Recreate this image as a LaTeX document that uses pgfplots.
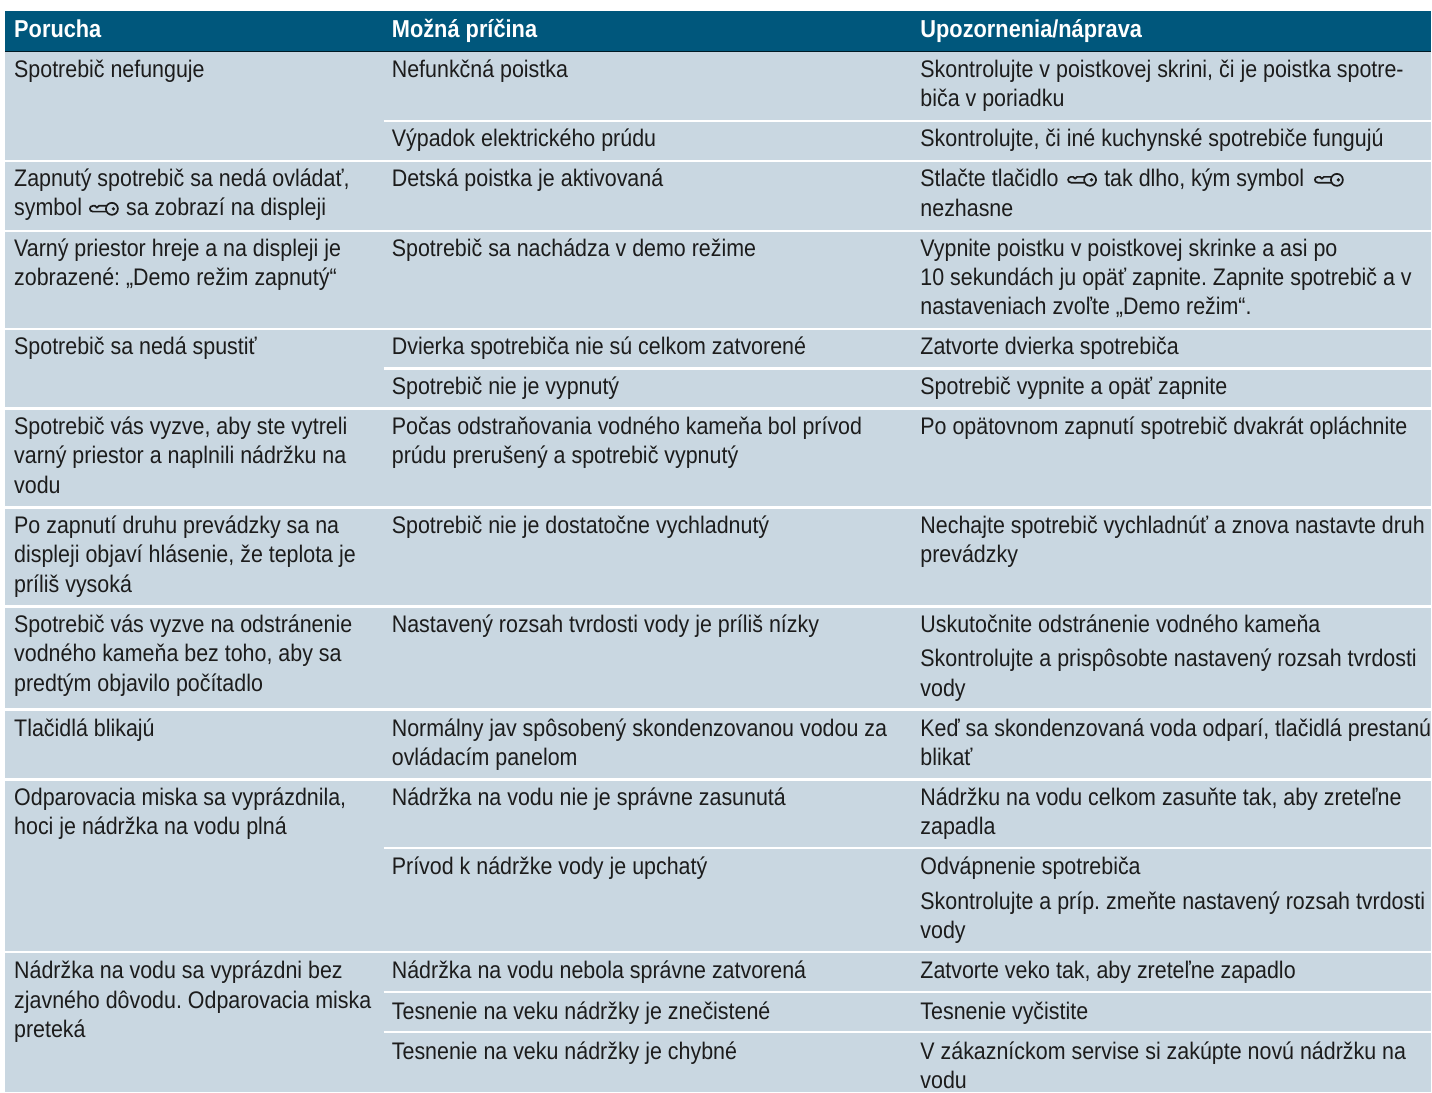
\documentclass[border=0pt]{standalone}
\usepackage{pgfplots}
\pgfplotsset{compat=1.18}
\usepackage{fontspec}
\setmainfont[FakeStretch=0.893]{Liberation Sans}
\newfontfamily\hdfont[FakeStretch=0.89]{Liberation Sans}
\definecolor{hd}{HTML}{00577C}
\definecolor{bd}{HTML}{C9D7E1}
\definecolor{tx}{HTML}{1C1C1C}
\newcommand{\T}[3]{\node[anchor=base west,inner sep=0pt,yshift=-1pt,text=tx,font=\fontsize{24}{24}\selectfont\frenchspacing] at (axis cs:#1,#2) {#3};}
\newcommand{\Hd}[2]{\node[anchor=base west,inner sep=0pt,text=white,font=\hdfont\bfseries\fontsize{24.5}{24}\selectfont] at (axis cs:#1,38) {#2};}
\newcommand{\K}[2]{\begin{scope}[shift={(axis cs:#1,#2)},tx,line width=1.7pt]
\draw (23,0) circle (6pt);
\fill (24.5,0) circle (1.8pt);
\draw (17.3,2.8) -- (4,2.8) .. controls (0,2.8) and (0,-3) .. (4,-3) -- (6,-3) -- (8,-1.2) -- (10,-3) -- (17.3,-3);
\end{scope}}
\begin{document}
\begin{tikzpicture}
\begin{axis}[scale only axis,width=1432pt,height=1093pt,xmin=0,xmax=1432,ymin=0,ymax=1093,y dir=reverse,hide axis,clip=false]
\path (axis cs:0,0) rectangle (axis cs:1432,1093);
\addplot[fill=bd,draw=none] coordinates {(5,52)(1432,52)(1432,1093)(5,1093)} -- cycle;
\addplot[fill=hd,draw=none] coordinates {(5,11)(1432,11)(1432,52)(5,52)} -- cycle;
\addplot[black!70!hd,line width=1pt] coordinates {(5,52)(1432,52)};
% full separators
\addplot[white,line width=2.4pt,forget plot] coordinates {(5,161)(1432,161)};
\addplot[white,line width=2.4pt,forget plot] coordinates {(5,231)(1432,231)};
\addplot[white,line width=2.4pt,forget plot] coordinates {(5,329)(1432,329)};
\addplot[white,line width=2.4pt,forget plot] coordinates {(5,409)(1432,409)};
\addplot[white,line width=2.4pt,forget plot] coordinates {(5,508)(1432,508)};
\addplot[white,line width=2.4pt,forget plot] coordinates {(5,607)(1432,607)};
\addplot[white,line width=2.4pt,forget plot] coordinates {(5,710)(1432,710)};
\addplot[white,line width=2.4pt,forget plot] coordinates {(5,780)(1432,780)};
\addplot[white,line width=2.4pt,forget plot] coordinates {(5,953)(1432,953)};
% partial separators
\addplot[white,line width=2.4pt,forget plot] coordinates {(384,121)(1432,121)};
\addplot[white,line width=2.4pt,forget plot] coordinates {(384,369)(1432,369)};
\addplot[white,line width=2.4pt,forget plot] coordinates {(384,849)(1432,849)};
\addplot[white,line width=2.4pt,forget plot] coordinates {(384,993)(1432,993)};
\addplot[white,line width=2.4pt,forget plot] coordinates {(384,1033)(1432,1033)};
\Hd{14}{Porucha}
\Hd{392}{Možná príčina}
\Hd{921}{Upozornenia/náprava}
% column 1
\T{14}{77}{Spotrebič nefunguje}
\T{14}{186}{Zapnutý spotrebič sa nedá ovládať,}
\T{14}{215}{symbol}
\K{89}{209}
\T{126}{215}{sa zobrazí na displeji}
\T{14}{256}{Varný priestor hreje a na displeji je}
\T{14}{285}{zobrazené: „Demo režim zapnutý“}
\T{14}{354}{Spotrebič sa nedá spustiť}
\T{14}{434}{Spotrebič vás vyzve, aby ste vytreli}
\T{14}{463}{varný priestor a naplnili nádržku na}
\T{14}{493}{vodu}
\T{14}{533}{Po zapnutí druhu prevádzky sa na}
\T{14}{562}{displeji objaví hlásenie, že teplota je}
\T{14}{592}{príliš vysoká}
\T{14}{632}{Spotrebič vás vyzve na odstránenie}
\T{14}{661}{vodného kameňa bez toho, aby sa}
\T{14}{691}{predtým objavilo počítadlo}
\T{14}{736}{Tlačidlá blikajú}
\T{14}{805}{Odparovacia miska sa vyprázdnila,}
\T{14}{834}{hoci je nádržka na vodu plná}
\T{14}{978}{Nádržka na vodu sa vyprázdni bez}
\T{14}{1008}{zjavného dôvodu. Odparovacia miska}
\T{14}{1037}{preteká}
% column 2
\T{392}{77}{Nefunkčná poistka}
\T{392}{146}{Výpadok elektrického prúdu}
\T{392}{186}{Detská poistka je aktivovaná}
\T{392}{256}{Spotrebič sa nachádza v demo režime}
\T{392}{354}{Dvierka spotrebiča nie sú celkom zatvorené}
\T{392}{394}{Spotrebič nie je vypnutý}
\T{392}{434}{Počas odstraňovania vodného kameňa bol prívod}
\T{392}{463}{prúdu prerušený a spotrebič vypnutý}
\T{392}{533}{Spotrebič nie je dostatočne vychladnutý}
\T{392}{632}{Nastavený rozsah tvrdosti vody je príliš nízky}
\T{392}{736}{Normálny jav spôsobený skondenzovanou vodou za}
\T{392}{765}{ovládacím panelom}
\T{392}{805}{Nádržka na vodu nie je správne zasunutá}
\T{392}{874}{Prívod k nádržke vody je upchatý}
\T{392}{978}{Nádržka na vodu nebola správne zatvorená}
\T{392}{1019}{Tesnenie na veku nádržky je znečistené}
\T{392}{1059}{Tesnenie na veku nádržky je chybné}
% column 3
\T{921}{77}{Skontrolujte v poistkovej skrini, či je poistka spotre-}
\T{921}{106}{biča v poriadku}
\T{921}{146}{Skontrolujte, či iné kuchynské spotrebiče fungujú}
\T{921}{186}{Stlačte tlačidlo}
\K{1068}{180}
\T{1105}{186}{tak dlho, kým symbol}
\K{1315}{180}
\T{921}{216}{nezhasne}
\T{921}{256}{Vypnite poistku v poistkovej skrinke a asi po}
\T{921}{285}{10 sekundách ju opäť zapnite. Zapnite spotrebič a v}
\T{921}{314}{nastaveniach zvoľte „Demo režim“.}
\T{921}{354}{Zatvorte dvierka spotrebiča}
\T{921}{394}{Spotrebič vypnite a opäť zapnite}
\T{921}{434}{Po opätovnom zapnutí spotrebič dvakrát opláchnite}
\T{921}{533}{Nechajte spotrebič vychladnúť a znova nastavte druh}
\T{921}{562}{prevádzky}
\T{921}{632}{Uskutočnite odstránenie vodného kameňa}
\T{921}{666}{Skontrolujte a prispôsobte nastavený rozsah tvrdosti}
\T{921}{696}{vody}
\T{921}{736}{Keď sa skondenzovaná voda odparí, tlačidlá prestanú}
\T{921}{765}{blikať}
\T{921}{805}{Nádržku na vodu celkom zasuňte tak, aby zreteľne}
\T{921}{834}{zapadla}
\T{921}{874}{Odvápnenie spotrebiča}
\T{921}{909}{Skontrolujte a príp. zmeňte nastavený rozsah tvrdosti}
\T{921}{938}{vody}
\T{921}{978}{Zatvorte veko tak, aby zreteľne zapadlo}
\T{921}{1019}{Tesnenie vyčistite}
\T{921}{1059}{V zákazníckom servise si zakúpte novú nádržku na}
\T{921}{1088}{vodu}
\end{axis}
\end{tikzpicture}
\end{document}
